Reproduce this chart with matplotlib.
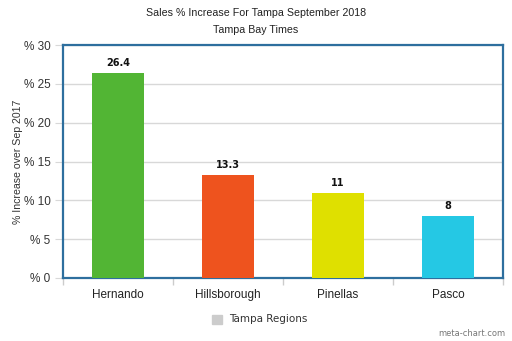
import numpy as np
import matplotlib.pyplot as plt
from matplotlib.patches import Rectangle

plt.rcParams['font.family'] = ['Liberation Sans', 'DejaVu Sans']

# sales increase by region
regions = ["Hernando", "Hillsborough", "Pinellas", "Pasco"]
increase = [26.4, 13.3, 11, 8]
colors = ["#52b534", "#ee531e", "#dfe000", "#25c8e4"]
yticks = [0, 5, 10, 15, 20, 25, 30]

fig = plt.figure(figsize=(5.12, 3.41), dpi=100)
ax = fig.add_axes([63 / 512, 1 - 278 / 341, 440 / 512, 233 / 341])

x = np.arange(len(regions))
ax.bar(x, increase, width=0.465, color=colors, zorder=3)
for xi, v in zip(x, increase):
    ax.text(xi, v + 0.6, "%g" % v, ha="center", va="bottom",
            fontsize=7, fontweight="bold", color="#111111", zorder=4,
            family="DejaVu Sans")

ax.set_xlim(-0.5, 3.5)
ax.set_ylim(0, 30)
ax.set_yticks(yticks)
ax.set_yticklabels(["%% %d" % t for t in yticks], fontsize=8.5, color="#333333")
ax.set_xticks(x)
ax.set_xticklabels(regions, fontsize=8.5, color="#222222")
# category boundary ticks
ax.set_xticks(np.arange(-0.5, 4, 1), minor=True)
ax.tick_params(axis="x", which="minor", length=5, color="#cccccc", width=1)
ax.grid(axis="y", color="#d8d8d8", linewidth=1, zorder=0)
ax.tick_params(axis="y", length=6, color="#d8d8d8", pad=3)
ax.tick_params(axis="x", which="major", length=0, pad=8)
for s in ax.spines.values():
    s.set_color("#2e6f9e")
    s.set_linewidth(1.6)

fig.text(18 / 512, 1 - 162 / 341, "% Increase over Sep 2017", rotation=90,
         ha="center", va="center", fontsize=7.6, color="#333333")

fig.text(0.5, 1 - 13 / 341, "Sales % Increase For Tampa September 2018",
         ha="center", va="center", fontsize=7.7, color="#222222")
fig.text(0.5, 1 - 30 / 341, "Tampa Bay Times",
         ha="center", va="center", fontsize=7.7, color="#222222")

# legend swatch
fig.patches.append(Rectangle((212 / 512, 1 - 324 / 341), 10 / 512, 9 / 341,
                             transform=fig.transFigure, color="#cccccc"))
fig.text(229 / 512, 1 - 319.5 / 341, "Tampa Regions", ha="left", va="center",
         fontsize=7.5, color="#333333", family="DejaVu Sans")
fig.text(505 / 512, 1 - 334 / 341, "meta-chart.com", ha="right", va="center",
         fontsize=6, color="#777777", family="DejaVu Sans")

fig.savefig("out.png", dpi=100)
